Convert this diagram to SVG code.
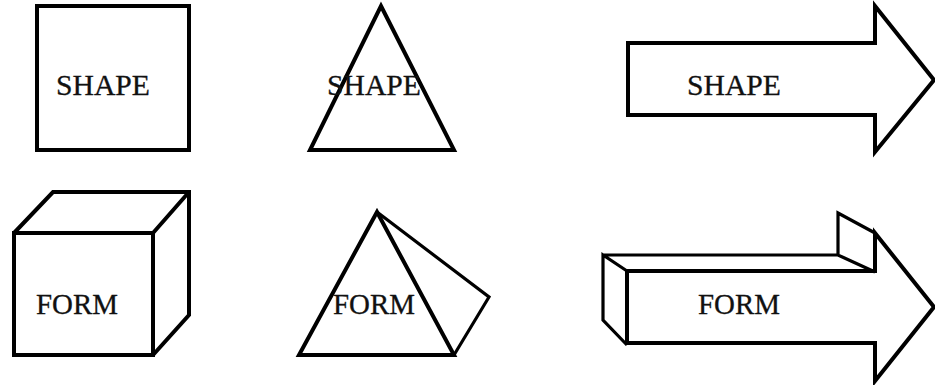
<svg xmlns="http://www.w3.org/2000/svg" width="935" height="385" viewBox="0 0 935 385">
<style>
.s{fill:none;stroke:#000;stroke-width:4;stroke-linejoin:miter}
.t{stroke-width:3.2}
text{font-family:"Liberation Serif","Times New Roman",serif;font-size:30px;fill:#111;stroke:#111;stroke-width:.3}
</style>
<rect width="935" height="385" fill="#fff"/>
<g id="shape-square"><rect class="s" x="37" y="6" width="152" height="144"/><text x="56" y="95" textLength="94" lengthAdjust="spacingAndGlyphs">SHAPE</text></g>
<g id="shape-triangle"><path class="s" d="M381 6L454 150H310Z"/><text x="327" y="95" textLength="94" lengthAdjust="spacingAndGlyphs">SHAPE</text></g>
<g id="shape-arrow"><path class="s" d="M628 43H875V6L934 80L875 152V115H628Z"/><text x="687" y="95" textLength="94" lengthAdjust="spacingAndGlyphs">SHAPE</text></g>
<g id="form-cube"><path class="s" d="M14 233H153V355H14ZM14 233L53 192H189V315L153 355M153 233L189 192"/><text x="36" y="314" textLength="82" lengthAdjust="spacingAndGlyphs">FORM</text></g>
<g id="form-pyramid"><path class="s" d="M377 212L454 355H299Z"/><path class="s t" d="M377 212L489 297L454 355"/><text x="333" y="314" textLength="82" lengthAdjust="spacingAndGlyphs">FORM</text></g>
<g id="form-arrow"><path class="s" d="M627 271H875V233L934 307L875 381V343H627Z"/><path class="s t" d="M627 271L603 255V320L627 345M603 255H838L875 272M838 255V213L875 233"/><text x="698" y="314" textLength="82" lengthAdjust="spacingAndGlyphs">FORM</text></g>
</svg>
